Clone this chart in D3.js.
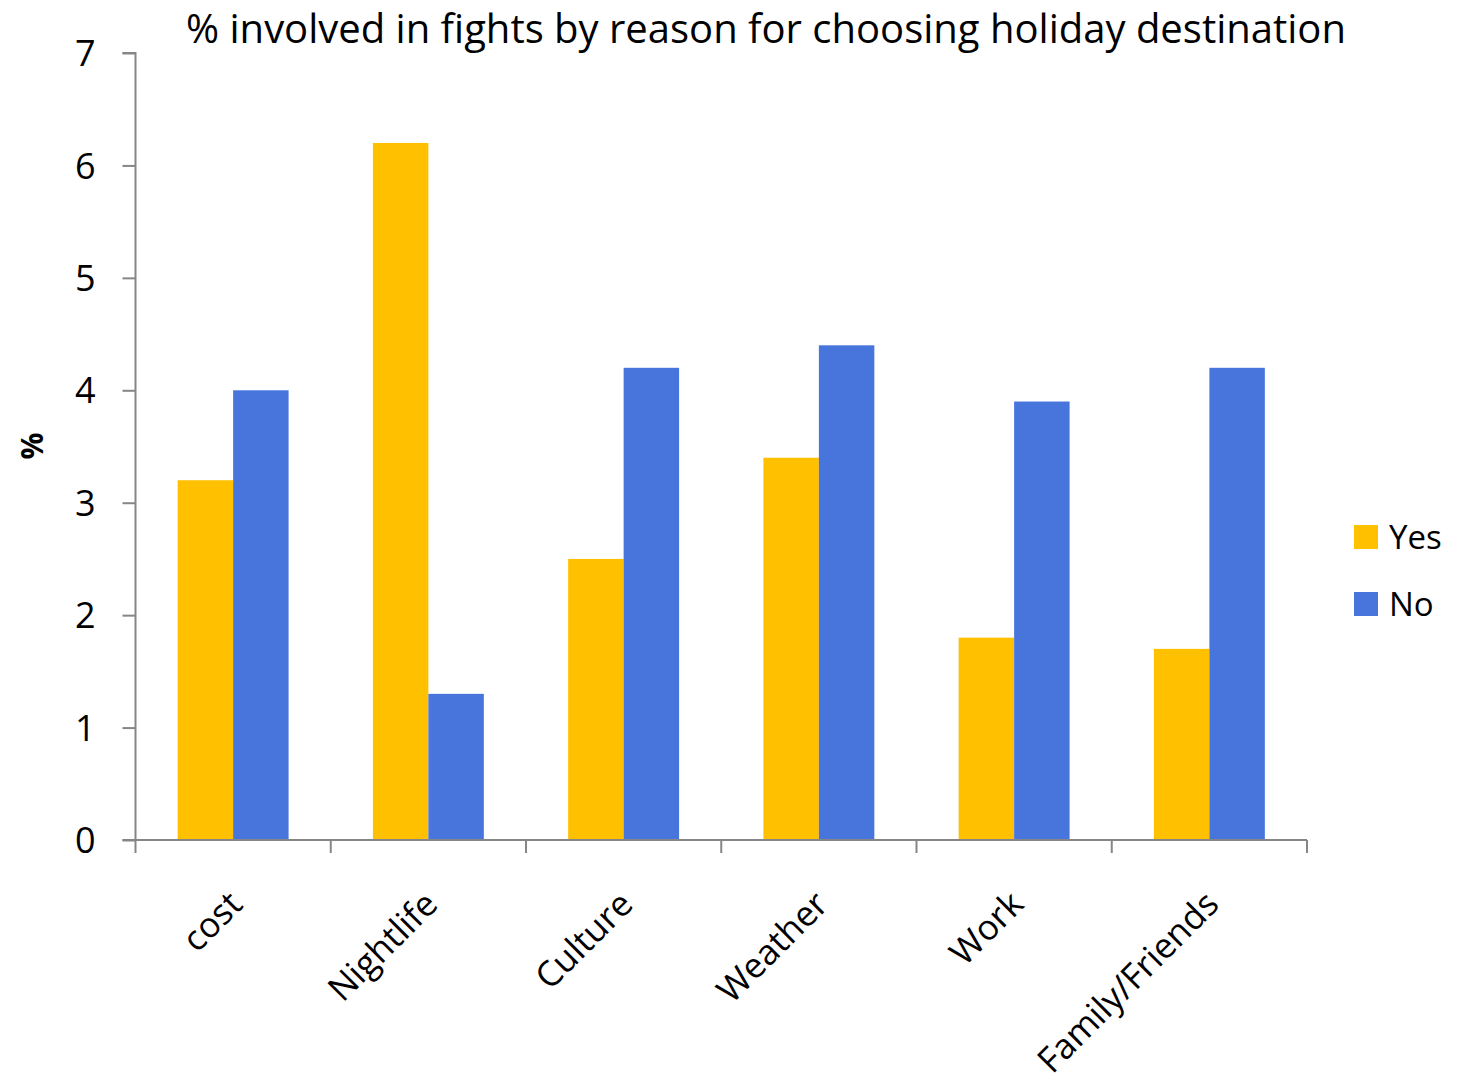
<!DOCTYPE html>
<html><head><meta charset="utf-8">
<script src="https://cdn.jsdelivr.net/npm/d3@7"></script>
<style>body{margin:0;background:#fff}svg{display:block}text{font-family:"Open Sans",sans-serif;fill:#000}</style>
</head><body>
<script>
const categories = ["cost","Nightlife","Culture","Weather","Work","Family/Friends"];
const seriesNames = ["Yes","No"];
const yesValues = [3.2,6.2,2.5,3.4,1.8,1.7];
const noValues = [4.0,1.3,4.2,4.4,3.9,4.2];
const yTicks = [0,1,2,3,4,5,6,7];
const colors = ["#FFC000","#4875DC"];
const title = "% involved in fights by reason for choosing holiday destination";

const W=1462,H=1085;
const svg=d3.select("body").append("svg").attr("width",W).attr("height",H);
const m={l:135.5,r:1307,t:53,b:840};
const x=d3.scaleBand().domain(categories).range([m.l,m.r]).paddingInner(0).paddingOuter(0);
const xs=d3.scaleBand().domain(seriesNames).range([0,x.bandwidth()]).paddingInner(0).paddingOuter(0.76);
const y=d3.scaleLinear().domain([0,7]).range([m.b,m.t]);
const data=categories.map((c,i)=>({c,vals:[yesValues[i],noValues[i]]}));

const g=svg.append("g");
g.selectAll("g.cat").data(data).join("g").attr("transform",d=>`translate(${x(d.c)},0)`)
 .selectAll("rect").data(d=>d.vals.map((v,j)=>({s:seriesNames[j],v,j}))).join("rect")
 .attr("x",d=>xs(d.s)).attr("width",xs.bandwidth()).attr("y",d=>y(d.v)).attr("height",d=>y(0)-y(d.v))
 .attr("fill",d=>colors[d.j]);

// y axis
const ya=svg.append("g").attr("transform",`translate(${m.l},0)`).call(d3.axisLeft(y).tickValues(yTicks).tickSize(13).tickPadding(27).tickFormat(d3.format("d")));
ya.select(".domain").attr("stroke","#868686").attr("stroke-width",2).attr("d",`M-13,${m.t}H0V${m.b}`);
ya.selectAll(".tick line").attr("stroke","#868686").attr("stroke-width",2);
ya.selectAll(".tick text").attr("font-size",36).attr("dy","0.35em");

// x axis
const xa=svg.append("g").attr("transform",`translate(0,${m.b})`);
xa.append("line").attr("x1",m.l-13).attr("x2",m.r).attr("stroke","#868686").attr("stroke-width",2);
const bounds=categories.map(c=>x(c)).concat([x(categories[categories.length-1])+x.bandwidth()]);
xa.selectAll("line.t").data(bounds).join("line").attr("class","t").attr("x1",d=>d).attr("x2",d=>d).attr("y1",0).attr("y2",13).attr("stroke","#868686").attr("stroke-width",2);
xa.selectAll("text.lab").data(categories).join("text").attr("class","lab")
 .attr("transform",c=>`translate(${x(c)+x.bandwidth()/2-6},${49}) rotate(-45)`)
 .attr("text-anchor","end").attr("font-size",35).attr("dy","0.7em").text(c=>c);

// y label
svg.append("text").attr("transform",`translate(32,446) rotate(-90)`).attr("text-anchor","middle").attr("dy","0.35em").attr("font-weight","bold").attr("font-size",30).text("%");

// title
svg.append("text").attr("x",766).attr("y",43).attr("text-anchor","middle").attr("font-size",40).text(title);

// legend
const lg=svg.append("g").attr("transform","translate(1354,525)");
seriesNames.forEach((s,i)=>{
  lg.append("rect").attr("x",0).attr("y",i*67).attr("width",24).attr("height",24).attr("fill",colors[i]);
  lg.append("text").attr("x",35).attr("y",i*67+12).attr("dy","0.35em").attr("font-size",33).text(s);
});
</script>
</body></html>
